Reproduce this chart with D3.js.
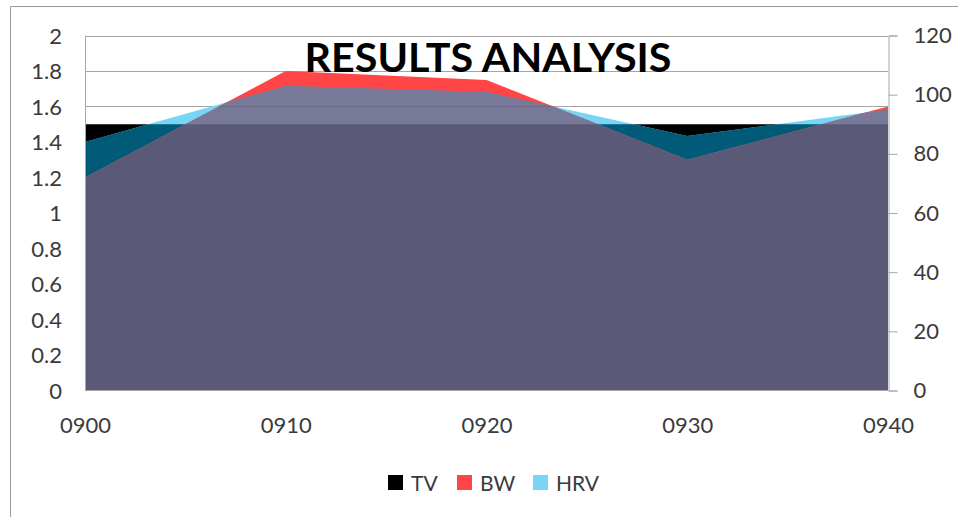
<!DOCTYPE html>
<html>
<head>
<meta charset="utf-8">
<script src="https://cdn.jsdelivr.net/npm/d3@7"></script>
<style>
  body { margin: 0; background: #fff; }
  text { font-family: Lato, "Open Sans", sans-serif; fill: #3a3a3a; }
</style>
</head>
<body>
<div id="holder"></div>
<script>
// data
const times = ["0900", "0910", "0920", "0930", "0940"];
const tv = [1.5, 1.5, 1.5, 1.5, 1.5];      // left axis
const bw = [72, 108, 105, 78, 96];         // right axis
const hrv = [84, 103, 101, 86, 95];        // right axis
const leftTicks = [0, 0.2, 0.4, 0.6, 0.8, 1, 1.2, 1.4, 1.6, 1.8, 2];
const rightTicks = [0, 20, 40, 60, 80, 100, 120];
const legendNames = ["TV", "BW", "HRV"];
const legendColors = ["#000000", "#ff4545", "#78d5f5"];

const w = 958, h = 517;
const pLeft = 85, pRight = 888, pTop = 35.5, pBottom = 390.5;

let svg = d3.select("#holder").append("svg")
    .attr("width", w).attr("height", h);

// outer chart border (only top and left show)
svg.append("path")
    .attr("d", "M10.5," + h + "V6.5H" + w)
    .attr("fill", "none").attr("stroke", "#9a9a9a");

let xScale = d3.scalePoint().domain(times).range([pLeft, pRight]);
let yLeft = d3.scaleLinear().domain([0, 2]).range([pBottom, pTop]);
let yRight = d3.scaleLinear().domain([0, 120]).range([pBottom, pTop]);

// gridlines
svg.append("g").selectAll("line")
    .data(leftTicks.slice(1))
    .enter().append("line")
    .attr("x1", pLeft).attr("x2", pRight)
    .attr("y1", d => Math.round(yLeft(d)) + 0.5)
    .attr("y2", d => Math.round(yLeft(d)) + 0.5)
    .attr("stroke", "#a6a6a6");

const areaL = d3.area().x((d, i) => xScale(times[i])).y0(yLeft(0)).y1(d => yLeft(d));
const areaR = d3.area().x((d, i) => xScale(times[i])).y0(yRight(0)).y1(d => yRight(d));

let defs = svg.append("defs");
defs.append("clipPath").attr("id", "clipTV").append("path").attr("d", areaL(tv));
defs.append("clipPath").attr("id", "clipHRV").append("path").attr("d", areaR(hrv));
defs.append("clipPath").attr("id", "clipBW").append("path").attr("d", areaR(bw));

let plot = svg.append("g");
plot.append("path").attr("d", areaL(tv)).attr("fill", "#000");
plot.append("path").attr("d", areaR(hrv)).attr("fill", "#78d5f5");
plot.append("g").attr("clip-path", "url(#clipTV)")
    .append("path").attr("d", areaR(hrv)).attr("fill", "#005a78");
plot.append("path").attr("d", areaR(bw)).attr("fill", "#ff4545");

// overlap of BW and HRV
let overlap = plot.append("g").attr("clip-path", "url(#clipHRV)");
overlap.append("path").attr("d", areaR(bw)).attr("fill", "#787898");
overlap.append("g").attr("clip-path", "url(#clipBW)")
    .selectAll("line").data(leftTicks.slice(1)).enter().append("line")
    .attr("x1", pLeft).attr("x2", pRight)
    .attr("y1", d => Math.round(yLeft(d)) + 0.5)
    .attr("y2", d => Math.round(yLeft(d)) + 0.5)
    .attr("stroke", "rgba(0,0,0,0.12)");
overlap.append("g").attr("clip-path", "url(#clipTV)")
    .append("path").attr("d", areaR(bw)).attr("fill", "#5a5a78");

// axes lines
svg.append("line").attr("x1", pLeft + 0.5).attr("x2", pLeft + 0.5)
    .attr("y1", pTop).attr("y2", pBottom).attr("stroke", "#a6a6a6");
svg.append("line").attr("x1", pLeft).attr("x2", pRight)
    .attr("y1", pBottom).attr("y2", pBottom).attr("stroke", "#a6a6a6");

// left labels
svg.append("g").selectAll("text")
    .data(leftTicks).enter().append("text")
    .attr("x", 62).attr("y", d => yLeft(d) + 8)
    .attr("text-anchor", "end")
    .style("font-size", "22px")
    .text(d => d3.format("")(d));

// right axis
const yAxis = d3.axisRight(yRight).tickValues(rightTicks).tickSize(9).tickPadding(16);
let ra = svg.append("g")
    .attr("transform", "translate(" + (pRight + 0.5) + ",0)")
    .call(yAxis);
ra.select(".domain").attr("stroke", "#a6a6a6");
ra.selectAll(".tick line").attr("stroke", "#a6a6a6");
ra.selectAll(".tick text").attr("fill", "#3a3a3a")
    .style("font-size", "22px").style("font-family", "Lato, sans-serif");

// x labels
const xAxis = d3.axisBottom(xScale).tickSize(0).tickPadding(27);
let xa = svg.append("g")
    .attr("transform", "translate(0," + pBottom + ")")
    .call(xAxis);
xa.select(".domain").remove();
xa.selectAll(".tick text").attr("fill", "#3a3a3a")
    .style("font-size", "22px").style("font-family", "Lato, sans-serif");

// title
svg.append("text")
    .attr("x", 488).attr("y", 72)
    .attr("text-anchor", "middle")
    .style("font-size", "40px").style("font-weight", "bold").style("fill", "#000")
    .attr("textLength", 367).attr("lengthAdjust", "spacingAndGlyphs")
    .text("RESULTS ANALYSIS");

// legend
const legX = [388, 457, 533];
let leg = svg.append("g").selectAll("g")
    .data(legendNames).enter().append("g")
    .attr("transform", (d, i) => "translate(" + legX[i] + ",475)");
leg.append("rect").attr("width", 15).attr("height", 15)
    .attr("fill", (d, i) => legendColors[i]);
leg.append("text").attr("x", 23).attr("y", 15.5)
    .style("font-size", "21px")
    .text(d => d);
</script>
</body>
</html>
